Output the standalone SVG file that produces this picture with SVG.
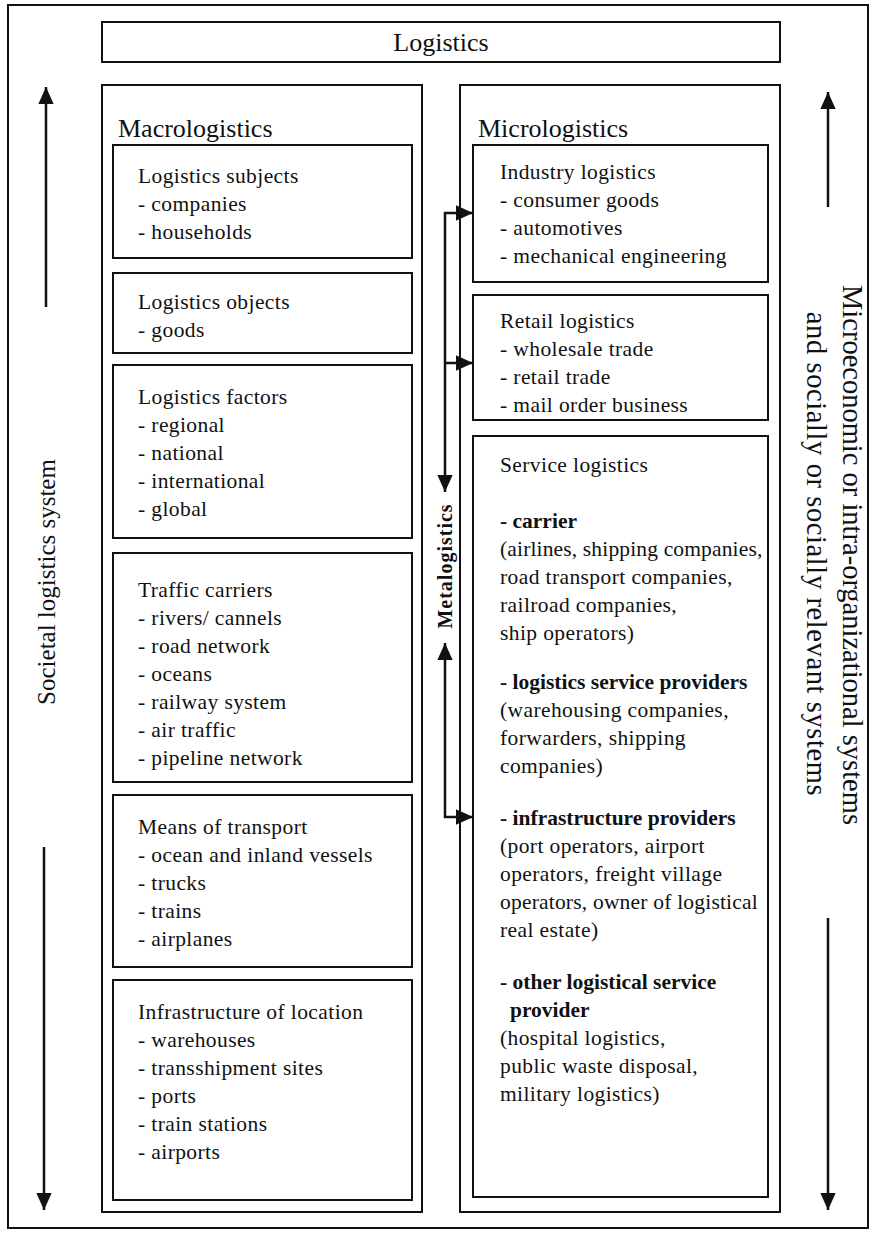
<svg xmlns="http://www.w3.org/2000/svg" width="876" height="1234" viewBox="0 0 876 1234">
<style>
.box{fill:#fff;stroke:#111;stroke-width:2}
.t{font-family:"Liberation Serif","Times New Roman",serif;font-size:21.5px;fill:#111;letter-spacing:0.4px}
.b{font-weight:bold;letter-spacing:0}
.h{font-family:"Liberation Serif","Times New Roman",serif;font-size:26px;fill:#111}
.side{font-family:"Liberation Serif","Times New Roman",serif;font-size:25px;fill:#111}
.side2{font-family:"Liberation Serif","Times New Roman",serif;font-size:28.5px;fill:#111}
.ln{fill:none;stroke:#111;stroke-width:2.5}
</style>
<defs>
<marker id="ah" viewBox="0 0 10 10" refX="10" refY="5" markerWidth="6.8" markerHeight="6.8" orient="auto" markerUnits="strokeWidth">
<path d="M0,0.5 L10,5 L0,9.5 z" fill="#111"/>
</marker>
</defs>
<rect width="876" height="1234" fill="#fff"/>
<g id="frame"><rect class="box" x="8" y="5" width="860" height="1223"/></g>
<g id="logistics"><rect class="box" x="102" y="22" width="678" height="40"/><text class="h" x="441" y="51" text-anchor="middle">Logistics</text></g>
<g id="macro"><rect class="box" x="102" y="85" width="320" height="1127"/><text class="h" x="118" y="137">Macrologistics</text></g>
<g id="micro"><rect class="box" x="460" y="85" width="320" height="1127"/><text class="h" x="478" y="137">Micrologistics</text></g>

<g id="subjects"><rect class="box" x="113" y="145" width="299" height="113"/>
<text class="t" x="138" y="183">Logistics subjects</text><text class="t" x="138" y="211">- companies</text><text class="t" x="138" y="239">- households</text></g>
<g id="objects"><rect class="box" x="113" y="273" width="299" height="80"/>
<text class="t" x="138" y="309">Logistics objects</text><text class="t" x="138" y="337">- goods</text></g>
<g id="factors"><rect class="box" x="113" y="365" width="299" height="173"/>
<text class="t" x="138" y="404">Logistics factors</text><text class="t" x="138" y="432">- regional</text><text class="t" x="138" y="460">- national</text><text class="t" x="138" y="488">- international</text><text class="t" x="138" y="516">- global</text></g>
<g id="carriers"><rect class="box" x="113" y="553" width="299" height="229"/>
<text class="t" x="138" y="597">Traffic carriers</text><text class="t" x="138" y="625">- rivers/ cannels</text><text class="t" x="138" y="653">- road network</text><text class="t" x="138" y="681">- oceans</text><text class="t" x="138" y="709">- railway system</text><text class="t" x="138" y="737">- air traffic</text><text class="t" x="138" y="765">- pipeline network</text></g>
<g id="means"><rect class="box" x="113" y="795" width="299" height="172"/>
<text class="t" x="138" y="834">Means of transport</text><text class="t" x="138" y="862">- ocean and inland vessels</text><text class="t" x="138" y="890">- trucks</text><text class="t" x="138" y="918">- trains</text><text class="t" x="138" y="946">- airplanes</text></g>
<g id="infra"><rect class="box" x="113" y="980" width="299" height="220"/>
<text class="t" x="138" y="1019">Infrastructure of location</text><text class="t" x="138" y="1047">- warehouses</text><text class="t" x="138" y="1075">- transshipment sites</text><text class="t" x="138" y="1103">- ports</text><text class="t" x="138" y="1131">- train stations</text><text class="t" x="138" y="1159">- airports</text></g>

<g id="industry"><rect class="box" x="473" y="145" width="295" height="137"/>
<text class="t" x="500" y="179">Industry logistics</text><text class="t" x="500" y="207">- consumer goods</text><text class="t" x="500" y="235">- automotives</text><text class="t" x="500" y="263">- mechanical engineering</text></g>
<g id="retail"><rect class="box" x="473" y="295" width="295" height="125"/>
<text class="t" x="500" y="328">Retail logistics</text><text class="t" x="500" y="356">- wholesale trade</text><text class="t" x="500" y="384">- retail trade</text><text class="t" x="500" y="412">- mail order business</text></g>
<g id="service"><rect class="box" x="473" y="436" width="295" height="761"/>
<text class="t" x="500" y="472">Service logistics</text>
<text class="t b" x="500" y="528">- carrier</text>
<text class="t" x="500" y="556" style="letter-spacing:0.15px">(airlines, shipping companies,</text>
<text class="t" x="500" y="584">road transport companies,</text>
<text class="t" x="500" y="612">railroad companies,</text>
<text class="t" x="500" y="640">ship operators)</text>
<text class="t b" x="500" y="689">- logistics service providers</text>
<text class="t" x="500" y="717">(warehousing companies,</text>
<text class="t" x="500" y="745">forwarders, shipping</text>
<text class="t" x="500" y="773">companies)</text>
<text class="t b" x="500" y="825">- infrastructure providers</text>
<text class="t" x="500" y="853">(port operators, airport</text>
<text class="t" x="500" y="881">operators, freight village</text>
<text class="t" x="500" y="909" style="letter-spacing:0.2px">operators, owner of logistical</text>
<text class="t" x="500" y="937">real estate)</text>
<text class="t b" x="500" y="989">- other logistical service</text>
<text class="t b" x="510" y="1017">provider</text>
<text class="t" x="500" y="1045">(hospital logistics,</text>
<text class="t" x="500" y="1073">public waste disposal,</text>
<text class="t" x="500" y="1101">military logistics)</text></g>

<g id="connectors">
<line class="ln" x1="46" y1="307" x2="46" y2="87" marker-end="url(#ah)"/>
<line class="ln" x1="44" y1="847" x2="44" y2="1210" marker-end="url(#ah)"/>
<line class="ln" x1="828" y1="207" x2="828" y2="92" marker-end="url(#ah)"/>
<line class="ln" x1="828" y1="918" x2="828" y2="1210" marker-end="url(#ah)"/>
<line class="ln" x1="445" y1="212" x2="445" y2="492" marker-end="url(#ah)"/>
<line class="ln" x1="444" y1="213" x2="473" y2="213" marker-end="url(#ah)"/>
<line class="ln" x1="444" y1="363" x2="473" y2="363" marker-end="url(#ah)"/>
<line class="ln" x1="445" y1="818" x2="445" y2="643" marker-end="url(#ah)"/>
<line class="ln" x1="444" y1="817" x2="473" y2="817" marker-end="url(#ah)"/>
</g>
<g id="labels">
<text class="t b" x="0" y="0" transform="translate(452,566) rotate(-90)" text-anchor="middle" style="font-size:20px;letter-spacing:1px">Metalogistics</text>
<text class="side" x="0" y="0" transform="translate(55,582) rotate(-90)" text-anchor="middle">Societal logistics system</text>
<text class="side2" x="0" y="0" transform="translate(843,555) rotate(90)" text-anchor="middle">Microeconomic or intra-organizational systems</text>
<text class="side2" x="0" y="0" transform="translate(807,554) rotate(90)" text-anchor="middle" style="letter-spacing:0.6px">and socially or socially relevant systems</text>
</g>
</svg>
